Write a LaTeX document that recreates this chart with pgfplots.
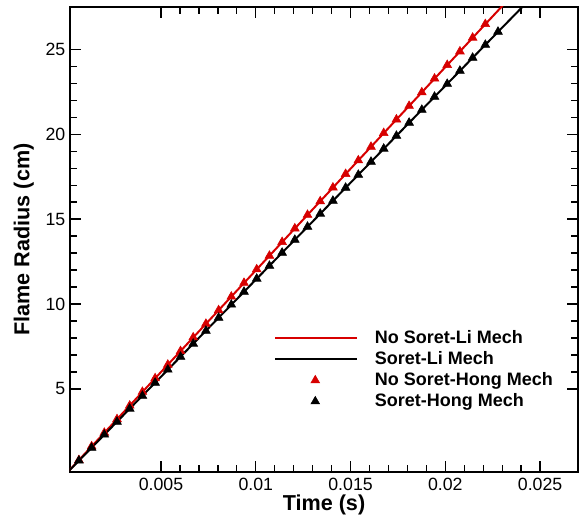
\documentclass[border=0pt]{standalone}
\usepackage{pgfplots}
\pgfplotsset{compat=1.18}
\usepackage{fontspec}
\setmainfont{Liberation Sans}
\definecolor{mred}{RGB}{215,0,0}
\pgfplotsset{
	linelegend/.style={legend image code/.code={\draw[##1] (0pt,0pt) -- (61pt,0pt);}},
	marklegend/.style={legend image code/.code={\draw[mark repeat=2,mark phase=2,##1] plot coordinates {(0pt,0pt)(30pt,0pt)(61pt,0pt)};}},
}
\begin{document}
\begin{tikzpicture}
\begin{axis}[
	name=ax,
	scale only axis,
	width=381pt, height=348.75pt,
	xmin=0.0002, xmax=0.027,
	ymin=0.1, ymax=27.5,
	axis line style={line width=1.3pt},
	tick style={line width=1pt, black},
	tick align=inside,
	major tick length=8pt,
	minor tick length=5pt,
	xtick={0.005,0.01,0.015,0.02,0.025},
	ytick={5,10,15,20,25},
	minor x tick num=4,
	minor y tick num=4,
	scaled x ticks=false,
	xticklabel style={/pgf/number format/fixed, /pgf/number format/precision=3},
	/pgf/number format/assume math mode=true,
	tick label style={font=\fontsize{13.3}{16}\selectfont},
	xticklabel style={yshift=-1pt},
	xlabel={\textbf{Time (s)}},
	ylabel={\textbf{Flame Radius (cm)}},
	label style={font=\fontsize{16.2}{19}\selectfont},
	xlabel style={yshift=4pt},
	ylabel style={yshift=2pt},
	clip=true,
	legend style={draw=none, fill=none, at={(0.4016,0.31)}, anchor=north west,
		font=\fontsize{13.5}{16}\selectfont\bfseries, row sep=0.5pt,
		inner sep=0pt,
		/tikz/every odd column/.append style={column sep=11pt}},
	legend cell align=left,
]
\addplot[mred, line width=1.5pt, linelegend]
	coordinates {(0,0) (0.0235,28.15)};
\addlegendentry{No Soret-Li Mech}
\addplot[black, line width=1.5pt, linelegend]
	coordinates {(0,0) (0.0245,28.0)};
\addlegendentry{Soret-Li Mech}
\addplot[only marks, mark=triangle*, mark size=3.8pt, color=mred, marklegend]
	coordinates {
	(0.00067,0.80) (0.00134,1.61) (0.00201,2.41) (0.00268,3.21) (0.00335,4.01)
	(0.00402,4.82) (0.00469,5.62) (0.00536,6.42) (0.00603,7.22) (0.00670,8.03)
	(0.00737,8.83) (0.00804,9.63) (0.00871,10.43) (0.00938,11.24) (0.01005,12.04)
	(0.01072,12.84) (0.01139,13.65) (0.01206,14.45) (0.01273,15.25) (0.01340,16.05)
	(0.01407,16.86) (0.01474,17.66) (0.01541,18.46) (0.01608,19.26) (0.01675,20.07)
	(0.01742,20.87) (0.01809,21.67) (0.01876,22.47) (0.01943,23.28) (0.02010,24.08)
	(0.02077,24.88) (0.02144,25.69) (0.02211,26.49)
	};
\addlegendentry{No Soret-Hong Mech}
\addplot[only marks, mark=triangle*, mark size=3.8pt, color=black, marklegend]
	coordinates {
	(0.00067,0.77) (0.00134,1.53) (0.00201,2.30) (0.00268,3.06) (0.00335,3.83)
	(0.00402,4.59) (0.00469,5.36) (0.00536,6.13) (0.00603,6.89) (0.00670,7.66)
	(0.00737,8.42) (0.00804,9.19) (0.00871,9.96) (0.00938,10.72) (0.01005,11.49)
	(0.01072,12.25) (0.01139,13.02) (0.01206,13.78) (0.01273,14.55) (0.01340,15.32)
	(0.01407,16.08) (0.01474,16.85) (0.01541,17.61) (0.01608,18.38) (0.01675,19.15)
	(0.01742,19.91) (0.01809,20.68) (0.01876,21.44) (0.01943,22.21) (0.02010,22.97)
	(0.02077,23.74) (0.02144,24.51) (0.02211,25.27) (0.02278,26.04)
	};
\addlegendentry{Soret-Hong Mech}
\end{axis}
\pgfresetboundingbox
\path (ax.south west) ++(-52.5pt,-34.5pt) coordinate (bl);
\path (ax.north east) ++(3pt,5.25pt) coordinate (tr);
\useasboundingbox (bl) rectangle (tr);
\end{tikzpicture}
\end{document}
